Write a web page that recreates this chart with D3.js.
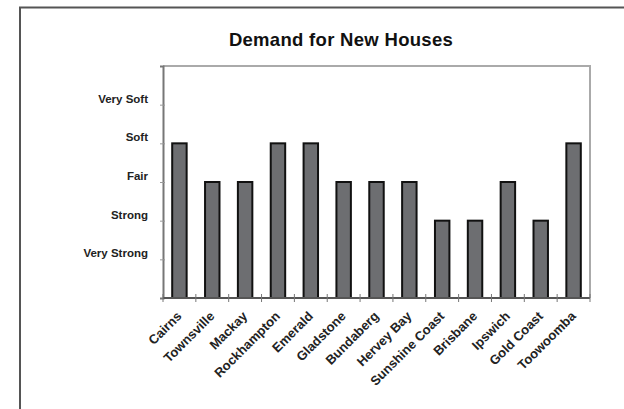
<!DOCTYPE html>
<html>
<head>
<meta charset="utf-8">
<script src="https://cdn.jsdelivr.net/npm/d3@7"></script>
<style>
  body { margin: 0; background: #fff; }
  text { font-family: "Liberation Sans", Arial, sans-serif; font-weight: bold; fill: #222; }
</style>
</head>
<body>
<svg id="chart" width="624" height="409"></svg>
<script>
// chart data
var towns = ["Cairns", "Townsville", "Mackay", "Rockhampton", "Emerald", "Gladstone",
  "Bundaberg", "Hervey Bay", "Sunshine Coast", "Brisbane", "Ipswich", "Gold Coast", "Toowoomba"];
var demand = [4, 3, 3, 4, 4, 3, 3, 3, 2, 2, 3, 2, 4];
var levels = [1, 2, 3, 4, 5];
var levelNames = ["Very Strong", "Strong", "Fair", "Soft", "Very Soft"];

var margin = {top: 66, right: 34, bottom: 111, left: 163};
var width = 624, height = 409;

var svg = d3.select("#chart");

// outer chart frame (runs off the picture right and bottom)
svg.append("path")
  .attr("d", "M20,700V7.5H700")
  .attr("fill", "none")
  .attr("stroke", "#555")
  .attr("stroke-width", 2);

svg.append("text")
  .attr("x", 341)
  .attr("y", 46)
  .attr("text-anchor", "middle")
  .style("font-size", "18.5px")
  .style("letter-spacing", "0.3px")
  .style("fill", "#111")
  .text("Demand for New Houses");

var x = d3.scaleBand()
  .domain(towns)
  .range([margin.left, width - margin.right])
  .paddingInner(0.56)
  .paddingOuter(0.28);

var y = d3.scaleLinear()
  .domain([0, 6])
  .range([height - margin.bottom, margin.top]);

// plot box (top + right)
svg.append("path")
  .attr("d", "M" + margin.left + "," + margin.top + "H" + (width - margin.right) + "V" + (height - margin.bottom))
  .attr("fill", "none")
  .attr("stroke", "#aaa")
  .attr("stroke-width", 2);

// y axis
var yAxis = d3.axisLeft(y)
  .tickValues(levels)
  .tickSize(3)
  .tickFormat("");
var gy = svg.append("g")
  .attr("transform", "translate(" + margin.left + ",0)")
  .call(yAxis);
gy.select(".domain").attr("stroke", "#777").attr("stroke-width", 2);
gy.selectAll(".tick line").attr("stroke", "#999").attr("x2", -3).attr("x1", 2);

svg.selectAll(".ylab")
  .data(levels)
  .enter().append("text")
  .attr("class", "ylab")
  .attr("x", 148)
  .attr("y", function (d) { return y(d) - 6; })
  .attr("dy", "0.35em")
  .attr("text-anchor", "end")
  .style("font-size", "11.5px")
  .text(function (d, i) { return levelNames[i]; });

// bars
svg.selectAll("rect.bar")
  .data(demand)
  .enter().append("rect")
  .attr("class", "bar")
  .attr("x", function (d, i) { return x(towns[i]); })
  .attr("width", x.bandwidth())
  .attr("y", function (d) { return y(d); })
  .attr("height", function (d) { return y(0) - y(d); })
  .attr("fill", "#6d6e71")
  .attr("stroke", "#111")
  .attr("stroke-width", 2);

// x axis with ticks between categories
var step = x.step();
var gx = svg.append("g")
  .attr("transform", "translate(0," + y(0) + ")");
gx.append("line")
  .attr("x1", margin.left).attr("x2", width - margin.right)
  .attr("stroke", "#555").attr("stroke-width", 2);
gx.selectAll(".tk")
  .data(d3.range(towns.length + 1))
  .enter().append("line")
  .attr("x1", function (i) { return margin.left + i * step; })
  .attr("x2", function (i) { return margin.left + i * step; })
  .attr("y1", -4).attr("y2", 4)
  .attr("stroke", "#777");

gx.selectAll(".xlab")
  .data(towns)
  .enter().append("text")
  .attr("class", "xlab")
  .attr("text-anchor", "end")
  .attr("transform", function (d) {
    return "translate(" + (x(d) + x.bandwidth() / 2 + 3) + ",19) rotate(-45)";
  })
  .style("font-size", "13px")
  .text(function (d) { return d; });
</script>
</body>
</html>
